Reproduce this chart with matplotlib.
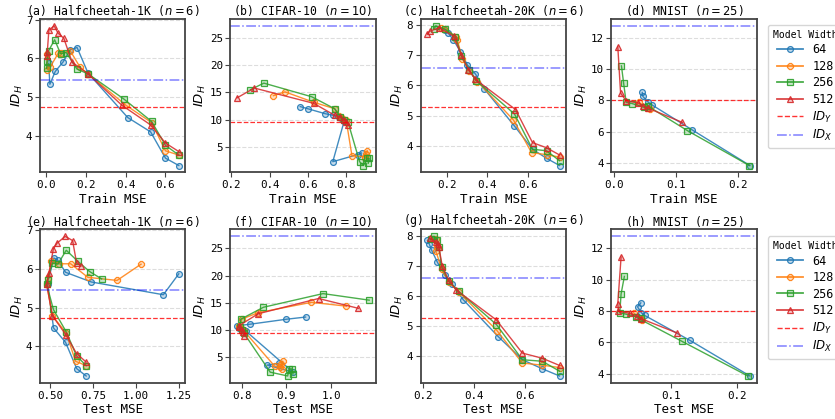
"""Intrinsic dimension of hidden layer vs. train / test MSE."""
import matplotlib
matplotlib.use("Agg")
import matplotlib.pyplot as plt
from matplotlib.colors import to_rgba
from matplotlib.lines import Line2D

widths = [64, 128, 256, 512]
colors = ["tab:blue", "tab:orange", "tab:green", "tab:red"]
markers = ["o", "8", "s", "^"]

# Halfcheetah-1K
hc1k_id_64 = [5.87, 5.33, 5.66, 5.91, 6.22, 6.28, 5.62, 4.47, 4.10, 3.42, 3.23]
hc1k_train_64 = [0.012, 0.018, 0.045, 0.085, 0.12, 0.155, 0.21, 0.41, 0.525, 0.60, 0.667]
hc1k_test_64 = [1.25, 1.16, 0.74, 0.59, 0.545, 0.522, 0.485, 0.52, 0.59, 0.655, 0.71]
hc1k_id_128 = [6.12, 5.70, 5.78, 6.13, 6.13, 6.20, 5.77, 5.60, 4.79, 4.34, 3.61, 3.50]
hc1k_train_128 = [0.003, 0.005, 0.02, 0.06, 0.075, 0.12, 0.17, 0.21, 0.40, 0.53, 0.60, 0.667]
hc1k_test_128 = [1.03, 0.89, 0.72, 0.62, 0.55, 0.507, 0.49, 0.48, 0.513, 0.594, 0.648, 0.71]
hc1k_id_256 = [5.74, 5.93, 6.20, 6.48, 6.12, 6.15, 5.72, 5.60, 4.95, 4.37, 3.75, 3.50]
hc1k_train_256 = [0.002, 0.004, 0.012, 0.042, 0.072, 0.10, 0.155, 0.21, 0.39, 0.53, 0.60, 0.667]
hc1k_test_256 = [0.80, 0.73, 0.66, 0.594, 0.545, 0.513, 0.485, 0.48, 0.519, 0.594, 0.654, 0.71]
hc1k_id_512 = [6.07, 6.16, 6.73, 6.84, 6.66, 6.52, 5.90, 5.60, 4.79, 4.28, 3.81, 3.59]
hc1k_train_512 = [0.003, 0.005, 0.013, 0.04, 0.058, 0.088, 0.13, 0.21, 0.38, 0.525, 0.60, 0.667]
hc1k_test_512 = [0.68, 0.654, 0.631, 0.588, 0.54, 0.519, 0.494, 0.48, 0.513, 0.594, 0.654, 0.71]
hc1k_idx, hc1k_idy = 5.44, 4.73

# CIFAR-10
cifar_id_64 = [12.4, 12.0, 11.1, 10.8, 10.4, 10.1, 9.8, 2.3, 3.6, 3.9]
cifar_train_64 = [0.56, 0.60, 0.69, 0.73, 0.76, 0.78, 0.79, 0.73, 0.86, 0.88]
cifar_test_64 = [0.943, 0.90, 0.82, 0.79, 0.795, 0.805, 0.81, 0.915, 0.857, 0.883]
cifar_id_128 = [14.4, 15.1, 13.2, 12.0, 10.7, 10.3, 9.9, 3.4, 3.2, 3.8, 4.3, 2.9]
cifar_train_128 = [0.42, 0.48, 0.63, 0.74, 0.76, 0.78, 0.80, 0.83, 0.90, 0.905, 0.91, 0.90]
cifar_test_128 = [1.034, 0.956, 0.837, 0.80, 0.795, 0.80, 0.805, 0.874, 0.885, 0.888, 0.892, 0.89]
cifar_id_256 = [15.5, 16.7, 14.2, 12.0, 10.5, 10.0, 9.5, 2.3, 1.6, 2.9, 2.9, 2.0]
cifar_train_256 = [0.30, 0.37, 0.62, 0.74, 0.77, 0.79, 0.81, 0.87, 0.89, 0.91, 0.92, 0.915]
cifar_test_256 = [1.085, 0.982, 0.849, 0.798, 0.797, 0.80, 0.805, 0.864, 0.903, 0.906, 0.912, 0.915]
cifar_id_512 = [14.0, 15.8, 13.0, 10.8, 10.5, 10.0, 9.6, 9.0]
cifar_train_512 = [0.23, 0.32, 0.63, 0.74, 0.77, 0.79, 0.80, 0.81]
cifar_test_512 = [1.061, 0.972, 0.837, 0.794, 0.795, 0.80, 0.803, 0.806]
cifar_idx, cifar_idy = 27.2, 9.55

# Halfcheetah-20K
hc20k_id_64 = [7.85, 7.73, 7.51, 7.12, 6.68, 6.38, 5.88, 4.65, 3.88, 3.58, 3.34]
hc20k_train_64 = [0.19, 0.205, 0.23, 0.265, 0.30, 0.34, 0.385, 0.535, 0.625, 0.695, 0.76]
hc20k_test_64 = [0.217, 0.224, 0.234, 0.256, 0.286, 0.315, 0.357, 0.495, 0.59, 0.668, 0.736]
hc20k_id_128 = [7.90, 7.88, 7.62, 7.50, 6.88, 6.47, 6.13, 4.85, 3.77, 3.70, 3.62]
hc20k_train_128 = [0.167, 0.185, 0.245, 0.25, 0.275, 0.31, 0.35, 0.53, 0.62, 0.695, 0.76]
hc20k_test_128 = [0.24, 0.25, 0.255, 0.25, 0.273, 0.30, 0.34, 0.49, 0.59, 0.668, 0.736]
hc20k_id_256 = [7.88, 7.98, 7.86, 7.62, 6.97, 6.50, 6.15, 5.05, 3.88, 3.83, 3.50]
hc20k_train_256 = [0.133, 0.142, 0.19, 0.24, 0.27, 0.31, 0.345, 0.535, 0.625, 0.695, 0.76]
hc20k_test_256 = [0.23, 0.243, 0.256, 0.262, 0.273, 0.30, 0.34, 0.488, 0.59, 0.668, 0.736]
hc20k_id_512 = [7.72, 7.80, 7.92, 7.63, 7.00, 6.52, 6.20, 5.20, 4.10, 3.93, 3.69]
hc20k_train_512 = [0.10, 0.112, 0.158, 0.232, 0.27, 0.305, 0.34, 0.54, 0.625, 0.695, 0.76]
hc20k_test_512 = [0.26, 0.25, 0.226, 0.262, 0.275, 0.30, 0.33, 0.488, 0.59, 0.668, 0.736]
hc20k_idx, hc20k_idy = 6.58, 5.27

# MNIST
mnist_id_64 = [8.51, 8.26, 7.88, 7.71, 6.12, 3.86]
mnist_train_64 = [0.046, 0.047, 0.056, 0.062, 0.127, 0.22]
mnist_test_64 = [0.054, 0.049, 0.055, 0.06, 0.129, 0.22]
mnist_id_128 = [7.88, 7.50, 7.45]
mnist_train_128 = [0.0405, 0.053, 0.058]
mnist_test_128 = [0.043, 0.054, 0.056]
mnist_id_256 = [10.2, 9.08, 7.88, 7.80, 7.56, 7.62, 6.08, 3.86]
mnist_train_256 = [0.0124, 0.016, 0.02, 0.03, 0.049, 0.056, 0.119, 0.219]
mnist_test_256 = [0.029, 0.024, 0.022, 0.031, 0.055, 0.046, 0.116, 0.217]
mnist_id_512 = [11.43, 8.47, 7.98, 7.84, 7.67, 7.50, 6.60]
mnist_train_512 = [0.0065, 0.011, 0.02, 0.039, 0.047, 0.056, 0.111]
mnist_test_512 = [0.024, 0.019, 0.02, 0.038, 0.048, 0.055, 0.109]
mnist_idx, mnist_idy = 12.75, 8.0

panels = [
    ("Halfcheetah-1K", 6,
     [hc1k_id_64, hc1k_id_128, hc1k_id_256, hc1k_id_512],
     [hc1k_train_64, hc1k_train_128, hc1k_train_256, hc1k_train_512],
     [hc1k_test_64, hc1k_test_128, hc1k_test_256, hc1k_test_512],
     hc1k_idx, hc1k_idy),
    ("CIFAR-10", 10,
     [cifar_id_64, cifar_id_128, cifar_id_256, cifar_id_512],
     [cifar_train_64, cifar_train_128, cifar_train_256, cifar_train_512],
     [cifar_test_64, cifar_test_128, cifar_test_256, cifar_test_512],
     cifar_idx, cifar_idy),
    ("Halfcheetah-20K", 6,
     [hc20k_id_64, hc20k_id_128, hc20k_id_256, hc20k_id_512],
     [hc20k_train_64, hc20k_train_128, hc20k_train_256, hc20k_train_512],
     [hc20k_test_64, hc20k_test_128, hc20k_test_256, hc20k_test_512],
     hc20k_idx, hc20k_idy),
    ("MNIST", 25,
     [mnist_id_64, mnist_id_128, mnist_id_256, mnist_id_512],
     [mnist_train_64, mnist_train_128, mnist_train_256, mnist_train_512],
     [mnist_test_64, mnist_test_128, mnist_test_256, mnist_test_512],
     mnist_idx, mnist_idy),
]

plt.rcParams["font.family"] = ["DejaVu Sans Mono"]
plt.rcParams["axes.edgecolor"] = "#444444"
plt.rcParams["axes.linewidth"] = 1.3

fig, axes = plt.subplots(2, 4, figsize=(8.35, 4.19), dpi=100)
fig.subplots_adjust(left=0.048, right=0.906, top=0.955, bottom=0.086,
                    wspace=0.31, hspace=0.37)

def style(c):
    # semi-transparent face, solid edge
    return dict(color=to_rgba(c, 0.85), mfc=to_rgba(c, 0.25),
                mec=to_rgba(c, 0.9), mew=0.9)

letters = "abcdefgh"
for row, kind in enumerate(["Train", "Test"]):
    for col, (name, n, ids, trains, tests, idx, idy) in enumerate(panels):
        ax = axes[row, col]
        xs_all = trains if row == 0 else tests
        for w, c, m, xs, ys in zip(widths, colors, markers, xs_all, ids):
            ax.plot(xs, ys, marker=m, lw=1, ms=4.2, **style(c))
        ax.axhline(idy, color="red", ls="--", lw=0.9, alpha=0.8)
        ax.axhline(idx, color="blue", ls="-.", lw=1.1, alpha=0.5)
        ax.grid(axis="y", color="#dddddd", ls="--", lw=0.8)
        ax.set_axisbelow(True)
        ax.set_title(f"({letters[row * 4 + col]}) {name} ($n={n}$)",
                     fontsize=8.3, pad=2.5)
        ax.set_xlabel(f"{kind} MSE", fontsize=9, labelpad=2)
        ax.set_ylabel("$ID_H$", fontsize=9.5, labelpad=1)
        ax.tick_params(labelsize=7.8, length=3.5, color="#444444", pad=2)

handles = [Line2D([], [], marker=m, lw=1.3, ms=4.2, **style(c))
           for c, m in zip(colors, markers)]
handles += [Line2D([], [], color="red", ls="--", lw=1, alpha=0.8),
            Line2D([], [], color="blue", ls="-.", lw=1.1, alpha=0.5)]
labels = [str(w) for w in widths] + ["$ID_Y$", "$ID_X$"]
for row, ytop in [(0, 0.96), (1, 0.955)]:
    leg = axes[row, 3].legend(handles, labels, title="Model Width",
                              loc="upper left", bbox_to_anchor=(1.08, ytop),
                              borderaxespad=0, fontsize=8.5, title_fontsize=7,
                              handlelength=2.2, labelspacing=0.3)
    leg.get_frame().set_edgecolor("#cccccc")

fig.savefig("out.png", dpi=100)
